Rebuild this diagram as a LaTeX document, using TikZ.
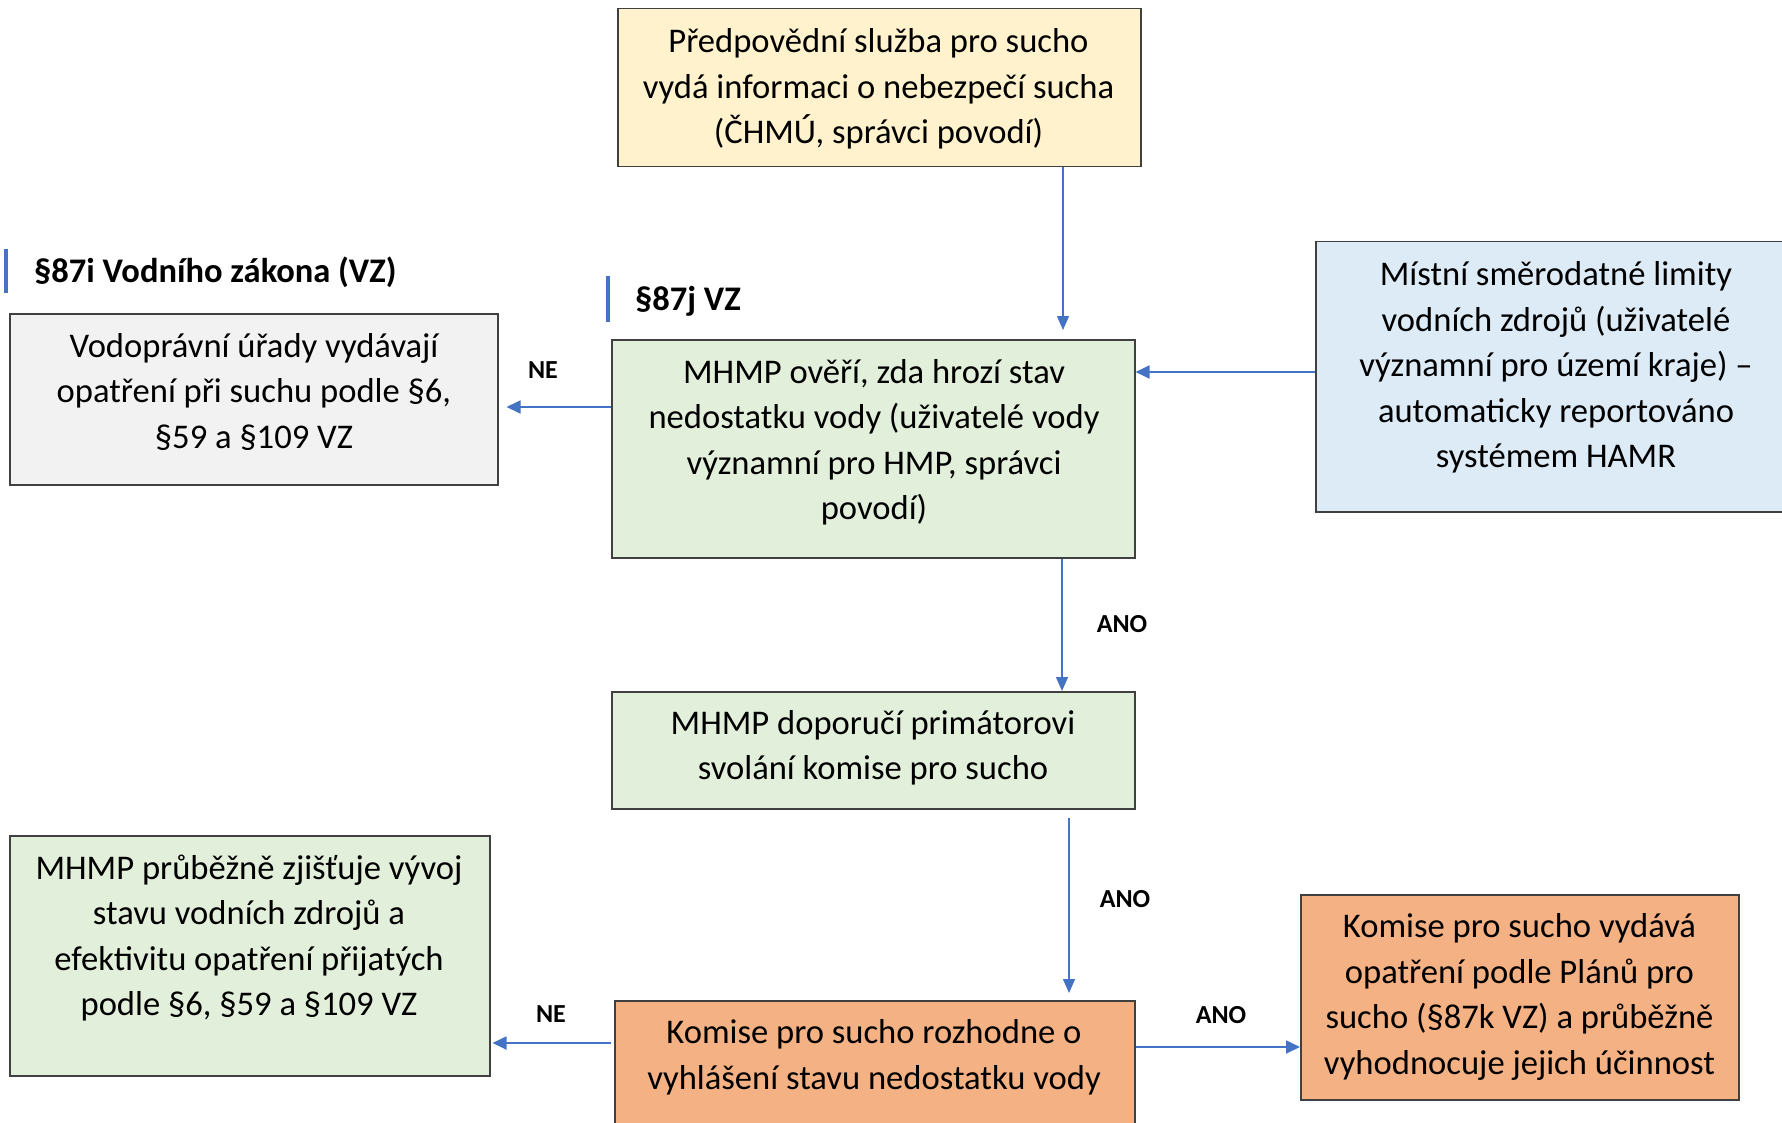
\documentclass[tikz,border=0pt]{standalone}
\usepackage{fontspec}
\setmainfont{Carlito}
\usetikzlibrary{arrows.meta}
\definecolor{cYel}{HTML}{FFF2CC}
\definecolor{cGry}{HTML}{F2F2F2}
\definecolor{cGrn}{HTML}{E2EFDA}
\definecolor{cBlu}{HTML}{DDEBF7}
\definecolor{cOra}{HTML}{F4B183}
\definecolor{cLine}{HTML}{4472C4}
\definecolor{cBord}{HTML}{404040}
\begin{document}
\begin{tikzpicture}[x=1pt,y=-1pt,
  box/.style={draw=cBord, line width=1.5pt, rectangle, inner sep=0pt, anchor=north west},
  txt/.style={font=\fontsize{34.6}{45.5}\selectfont, align=center, inner sep=0pt},
  head/.style={font=\fontsize{34.5}{40}\selectfont\bfseries, anchor=west, inner sep=0pt},
  lbl/.style={font=\fontsize{26}{30}\selectfont\bfseries, inner sep=0pt},
  arr/.style={draw=cLine, line width=1.3pt, -{Triangle[length=14pt,width=12pt]}},
  harr/.style={draw=cLine, line width=1.8pt, -{Triangle[length=14pt,width=13pt]}},
  bar/.style={draw=cLine, line width=3.4pt}]
\useasboundingbox (0,0) rectangle (1782,1123);
\clip (0,0) rectangle (1782,1123);
\fill[white] (0,0) rectangle (1782,1123);

% boxes
\node[box, fill=cYel, minimum width=523pt, minimum height=158pt] (yel) at (617,8) {};
\node[box, fill=cGry, minimum width=488pt, minimum height=171pt] (gry) at (9,313) {};
\node[box, fill=cGrn, minimum width=523pt, minimum height=218pt] (grn) at (611,339) {};
\node[box, fill=cBlu, minimum width=490pt, minimum height=270pt] (blu) at (1315,241) {};
\node[box, fill=cGrn, minimum width=523pt, minimum height=117pt] (grn2) at (611,691) {};
\node[box, fill=cGrn, minimum width=480pt, minimum height=240pt] (grnL) at (9,835) {};
\node[box, fill=cOra, minimum width=520pt, minimum height=140pt] (ora) at (614,1000) {};
\node[box, fill=cOra, minimum width=438pt, minimum height=205pt] (oraR) at (1300,894) {};

% texts
\node[txt] (yelt) at (878.5,88.8) {Předpovědní služba pro sucho\\vydá informaci o nebezpečí sucha\\(ČHMÚ, správci povodí)};
\node[txt] (gryt) at (254,392) {Vodoprávní úřady vydávají\\opatření při suchu podle §6,\\§59 a §109 VZ};
\node[txt] (grnt) at (874,442.5) {MHMP ověří, zda hrozí stav\\nedostatku vody (uživatelé vody\\významní pro HMP, správci\\povodí)};
\node[txt] (blut) at (1556,367.5) {Místní směrodatné limity\\vodních zdrojů (uživatelé\\významní pro území kraje) –\\automaticky reportováno\\systémem HAMR};
\node[txt] (grn2t) at (873,748) {MHMP doporučí primátorovi\\svolání komise pro sucho};
\node[txt] (grnLt) at (249,938) {MHMP průběžně zjišťuje vývoj\\stavu vodních zdrojů a\\efektivitu opatření přijatých\\podle §6, §59 a §109 VZ};
\node[txt] (orat) at (874,1057.5) {Komise pro sucho rozhodne o\\vyhlášení stavu nedostatku vody};
\node[txt] (oraRt) at (1519.5,997) {Komise pro sucho vydává\\opatření podle Plánů pro\\sucho (§87k VZ) a průběžně\\vyhodnocuje jejich účinnost};

% headings
\node[head] (h1) at (34,272.5) {§87i Vodního zákona (VZ)};
\node[head] (h2) at (635,301) {§87j VZ};
\coordinate (b1t) at (6,249); \coordinate (b1b) at (6,293);
\coordinate (b2t) at (608,276); \coordinate (b2b) at (608,322);
\draw[bar] (b1t) -- (b1b);
\draw[bar] (b2t) -- (b2b);

% connector x/y guides
\coordinate (v1) at (1063,0);
\coordinate (v2) at (1062,0);
\coordinate (v3) at (1069,0);
\coordinate (h1y) at (0,372);
\coordinate (h2y) at (0,407);
\coordinate (h3y) at (0,1043);
\coordinate (h4y) at (0,1047);

\draw[arr, shorten >=9pt] (yel.south -| v1) -- (grn.north -| v1);
\draw[harr] (blu.west |- h1y) -- (grn.east |- h1y);
\draw[harr, shorten >=8pt] (grn.west |- h2y) -- (gry.east |- h2y);
\draw[arr] (grn.south -| v2) -- (grn2.north -| v2);
\draw[arr, shorten <=8pt, shorten >=7pt] (grn2.south -| v3) -- (ora.north -| v3);
\draw[harr, shorten <=3pt, shorten >=2pt] (ora.west |- h3y) -- (grnL.east |- h3y);
\draw[harr] (ora.east |- h4y) -- (oraR.west |- h4y);

% labels
\node[lbl] (ne1) at (543,370) {NE};
\node[lbl] (ano1) at (1122,624) {ANO};
\node[lbl] (ano2) at (1125,899) {ANO};
\node[lbl] (ne2) at (551,1014) {NE};
\node[lbl] (ano3) at (1221,1015) {ANO};
\end{tikzpicture}
\end{document}
